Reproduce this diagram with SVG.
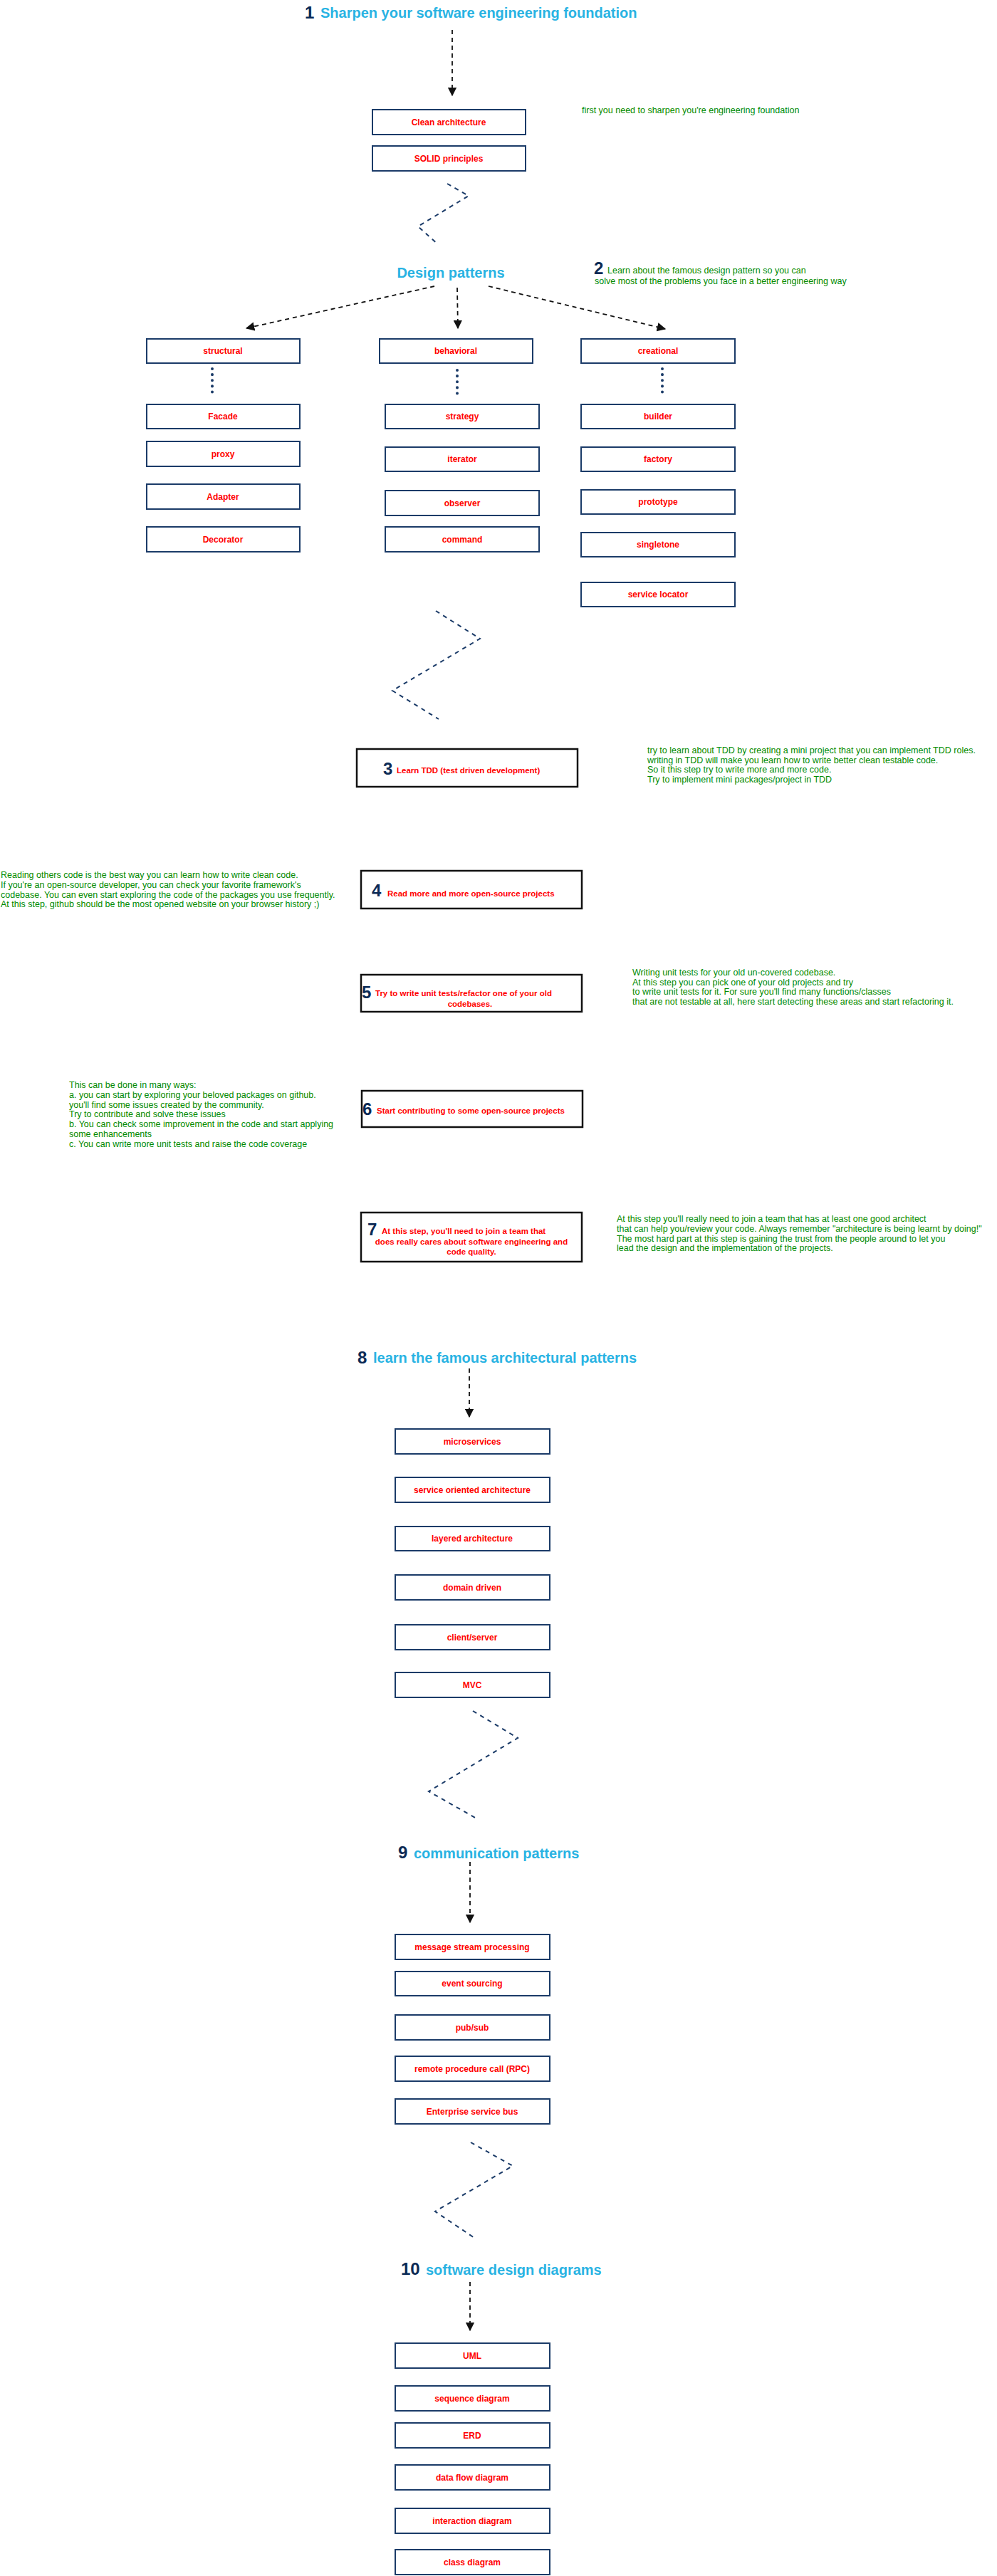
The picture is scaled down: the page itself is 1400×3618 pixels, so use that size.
<svg xmlns="http://www.w3.org/2000/svg" width="1400" height="3618" viewBox="0 0 1400 3618">
<style>
text{font-family:"Liberation Sans",Arial,sans-serif}
.bx{fill:#fff;stroke:#1b3b68;stroke-width:2}
.bk{fill:#fff;stroke:#111;stroke-width:2.5}
.lb{fill:#ff0000;font-size:12px;font-weight:bold;text-anchor:middle}
.lb2{fill:#ff0000;font-size:11.5px;font-weight:bold}
.nt{fill:#008a00;font-size:12.5px}
.tt{fill:#29b3e3;font-size:20px;font-weight:bold}
.num{fill:#0b2a55;font-size:24px;font-weight:bold}
.arr{fill:none;stroke:#111;stroke-width:1.8;stroke-dasharray:6 5}
.zz{fill:none;stroke:#1b3b68;stroke-width:2;stroke-dasharray:6 6}
.dot{fill:none;stroke:#1b3b68;stroke-width:4;stroke-dasharray:0.1 8;stroke-linecap:round}
</style>
<defs>
<marker id="ah" viewBox="0 0 10 10" refX="9" refY="5" markerWidth="7" markerHeight="7" orient="auto"><path d="M0,0 L10,5 L0,10 z" fill="#111"/></marker>
</defs>
<rect width="1400" height="3618" fill="#fff"/>

<g id="connectors">
<path class="arr" d="M635,42 L635,134" marker-end="url(#ah)"/>
<path class="zz" d="M628,258 L658,275 L587,318 L615,343"/>
<path class="arr" d="M610,402 L346,461" marker-end="url(#ah)"/>
<path class="arr" d="M642,404 L643,461" marker-end="url(#ah)"/>
<path class="arr" d="M686,402 L934,462" marker-end="url(#ah)"/>
<path class="dot" d="M298,518 L298,554"/>
<path class="dot" d="M642,520 L642,556"/>
<path class="dot" d="M930,518 L930,556"/>
<path class="zz" d="M612,858 L674,897 L551,970 L616,1010"/>
<path class="arr" d="M659,1922 L659,1990" marker-end="url(#ah)"/>
<path class="zz" d="M664,2403 L727,2441 L602,2516 L669,2554"/>
<path class="arr" d="M660,2615 L660,2700" marker-end="url(#ah)"/>
<path class="zz" d="M661,3009 L720,3042 L611,3106 L669,3145"/>
<path class="arr" d="M660,3205 L660,3273" marker-end="url(#ah)"/>
</g>

<g id="title1"><text class="num" x="428" y="26">1</text><text class="tt" x="450" y="25">Sharpen your software engineering foundation</text></g>
<g id="clean"><rect class="bx" x="523" y="154" width="215" height="35"/><text class="lb" x="630" y="176">Clean architecture</text></g>
<g id="solid"><rect class="bx" x="523" y="205" width="215" height="35"/><text class="lb" x="630" y="227">SOLID principles</text></g>
<g id="note1"><text class="nt" x="817" y="159">first you need to sharpen you're engineering foundation</text></g>

<g id="design"><text class="tt" x="633" y="390" text-anchor="middle">Design patterns</text></g>
<g id="note2"><text class="num" x="834" y="385">2</text><text class="nt" x="853" y="384">Learn about the famous design pattern so you can</text><text class="nt" x="835" y="399">solve most of the problems you face in a better engineering way</text></g>

<g id="structural"><rect class="bx" x="206" y="476" width="215" height="34"/><text class="lb" x="313" y="497">structural</text></g>
<g id="behavioral"><rect class="bx" x="533" y="476" width="215" height="34"/><text class="lb" x="640" y="497">behavioral</text></g>
<g id="creational"><rect class="bx" x="816" y="476" width="216" height="34"/><text class="lb" x="924" y="497">creational</text></g>

<g id="facade"><rect class="bx" x="206" y="568" width="215" height="34"/><text class="lb" x="313" y="589">Facade</text></g>
<g id="proxy"><rect class="bx" x="206" y="620" width="215" height="35"/><text class="lb" x="313" y="642">proxy</text></g>
<g id="adapter"><rect class="bx" x="206" y="680" width="215" height="35"/><text class="lb" x="313" y="702">Adapter</text></g>
<g id="decorator"><rect class="bx" x="206" y="740" width="215" height="35"/><text class="lb" x="313" y="762">Decorator</text></g>

<g id="strategy"><rect class="bx" x="541" y="568" width="216" height="34"/><text class="lb" x="649" y="589">strategy</text></g>
<g id="iterator"><rect class="bx" x="541" y="628" width="216" height="34"/><text class="lb" x="649" y="649">iterator</text></g>
<g id="observer"><rect class="bx" x="541" y="689" width="216" height="35"/><text class="lb" x="649" y="711">observer</text></g>
<g id="command"><rect class="bx" x="541" y="740" width="216" height="35"/><text class="lb" x="649" y="762">command</text></g>

<g id="builder"><rect class="bx" x="816" y="568" width="216" height="34"/><text class="lb" x="924" y="589">builder</text></g>
<g id="factory"><rect class="bx" x="816" y="628" width="216" height="34"/><text class="lb" x="924" y="649">factory</text></g>
<g id="prototype"><rect class="bx" x="816" y="688" width="216" height="34"/><text class="lb" x="924" y="709">prototype</text></g>
<g id="singletone"><rect class="bx" x="816" y="748" width="216" height="34"/><text class="lb" x="924" y="769">singletone</text></g>
<g id="servicelocator"><rect class="bx" x="816" y="818" width="216" height="34"/><text class="lb" x="924" y="839">service locator</text></g>

<g id="step3"><rect class="bk" x="501" y="1052" width="310" height="53"/><text class="num" x="538" y="1088">3</text><text class="lb2" x="557" y="1086">Learn TDD (test driven development)</text></g>
<g id="note3"><text class="nt" x="909" y="1058">try to learn about TDD by creating a mini project that you can implement TDD roles.</text><text class="nt" x="909" y="1072">writing in TDD will make you learn how to write better clean testable code.</text><text class="nt" x="909" y="1085">So it this step try to write more and more code.</text><text class="nt" x="909" y="1099">Try to implement mini packages/project in TDD</text></g>

<g id="step4"><rect class="bk" x="507" y="1223" width="310" height="53"/><text class="num" x="522" y="1259">4</text><text class="lb2" x="544" y="1259">Read more and more open-source projects</text></g>
<g id="note4"><text class="nt" x="1" y="1233">Reading others code is the best way you can learn how to write clean code.</text><text class="nt" x="1" y="1247">If you're an open-source developer, you can check your favorite framework's</text><text class="nt" x="1" y="1261">codebase. You can even start exploring the code of the packages you use frequently.</text><text class="nt" x="1" y="1274">At this step, github should be the most opened website on your browser history ;)</text></g>

<g id="step5"><rect class="bk" x="507" y="1369" width="310" height="52"/><text class="num" x="508" y="1402">5</text><text class="lb2" x="527" y="1399">Try to write unit tests/refactor one of your old</text><text class="lb2" x="660" y="1414" text-anchor="middle">codebases.</text></g>
<g id="note5"><text class="nt" x="888" y="1370">Writing unit tests for your old un-covered codebase.</text><text class="nt" x="888" y="1384">At this step you can pick one of your old projects and try</text><text class="nt" x="888" y="1397">to write unit tests for it. For sure you'll find many functions/classes</text><text class="nt" x="888" y="1411">that are not testable at all, here start detecting these areas and start refactoring it.</text></g>

<g id="step6"><rect class="bk" x="508" y="1532" width="310" height="51"/><text class="num" x="509" y="1566">6</text><text class="lb2" x="529" y="1564">Start contributing to some open-source projects</text></g>
<g id="note6"><text class="nt" x="97" y="1528">This can be done in many ways:</text><text class="nt" x="97" y="1542">a. you can start by exploring your beloved packages on github.</text><text class="nt" x="97" y="1556">you'll find some issues created by the community.</text><text class="nt" x="97" y="1569">Try to contribute and solve these issues</text><text class="nt" x="97" y="1583">b. You can check some improvement in the code and start applying</text><text class="nt" x="97" y="1597">some enhancements</text><text class="nt" x="97" y="1611">c. You can write more unit tests and raise the code coverage</text></g>

<g id="step7"><rect class="bk" x="507" y="1703" width="310" height="69"/><text class="num" x="516" y="1735">7</text><text class="lb2" x="536" y="1733">At this step, you'll need to join a team that</text><text class="lb2" x="662" y="1748" text-anchor="middle">does really cares about software engineering and</text><text class="lb2" x="662" y="1762" text-anchor="middle">code quality.</text></g>
<g id="note7"><text class="nt" x="866" y="1716">At this step you'll really need to join a team that has at least one good architect</text><text class="nt" x="866" y="1730">that can help you/review your code. Always remember "architecture is being learnt by doing!"</text><text class="nt" x="866" y="1744">The most hard part at this step is gaining the trust from the people around to let you</text><text class="nt" x="866" y="1757">lead the design and the implementation of the projects.</text></g>

<g id="title8"><text class="num" x="502" y="1915">8</text><text class="tt" x="524" y="1914">learn the famous architectural patterns</text></g>
<g id="microservices"><rect class="bx" x="555" y="2007" width="217" height="35"/><text class="lb" x="663" y="2029">microservices</text></g>
<g id="soa"><rect class="bx" x="555" y="2075" width="217" height="35"/><text class="lb" x="663" y="2097">service oriented architecture</text></g>
<g id="layered"><rect class="bx" x="555" y="2144" width="217" height="34"/><text class="lb" x="663" y="2165">layered architecture</text></g>
<g id="domain"><rect class="bx" x="555" y="2212" width="217" height="35"/><text class="lb" x="663" y="2234">domain driven</text></g>
<g id="clientserver"><rect class="bx" x="555" y="2282" width="217" height="35"/><text class="lb" x="663" y="2304">client/server</text></g>
<g id="mvc"><rect class="bx" x="555" y="2349" width="217" height="35"/><text class="lb" x="663" y="2371">MVC</text></g>

<g id="title9"><text class="num" x="559" y="2610">9</text><text class="tt" x="581" y="2610">communication patterns</text></g>
<g id="msp"><rect class="bx" x="555" y="2717" width="217" height="35"/><text class="lb" x="663" y="2739">message stream processing</text></g>
<g id="es"><rect class="bx" x="555" y="2769" width="217" height="34"/><text class="lb" x="663" y="2790">event sourcing</text></g>
<g id="pubsub"><rect class="bx" x="555" y="2830" width="217" height="35"/><text class="lb" x="663" y="2852">pub/sub</text></g>
<g id="rpc"><rect class="bx" x="555" y="2888" width="217" height="35"/><text class="lb" x="663" y="2910">remote procedure call (RPC)</text></g>
<g id="esb"><rect class="bx" x="555" y="2948" width="217" height="35"/><text class="lb" x="663" y="2970">Enterprise service bus</text></g>

<g id="title10"><text class="num" x="563" y="3195">10</text><text class="tt" x="598" y="3195">software design diagrams</text></g>
<g id="uml"><rect class="bx" x="555" y="3291" width="217" height="35"/><text class="lb" x="663" y="3313">UML</text></g>
<g id="sequence"><rect class="bx" x="555" y="3351" width="217" height="35"/><text class="lb" x="663" y="3373">sequence diagram</text></g>
<g id="erd"><rect class="bx" x="555" y="3403" width="217" height="35"/><text class="lb" x="663" y="3425">ERD</text></g>
<g id="dataflow"><rect class="bx" x="555" y="3462" width="217" height="35"/><text class="lb" x="663" y="3484">data flow diagram</text></g>
<g id="interaction"><rect class="bx" x="555" y="3523" width="217" height="35"/><text class="lb" x="663" y="3545">interaction diagram</text></g>
<g id="classdiagram"><rect class="bx" x="555" y="3581" width="217" height="35"/><text class="lb" x="663" y="3603">class diagram</text></g>
</svg>
